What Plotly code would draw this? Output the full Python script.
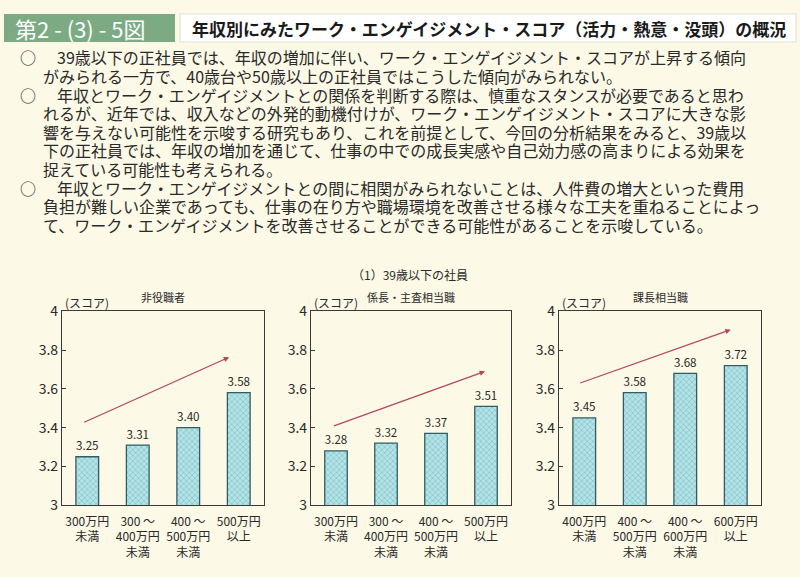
import plotly.graph_objects as go

W, H = 800, 577

# ---- data ----
cats_a = ["300万円<br>未満", "300 ～<br>400万円<br>未満", "400 ～<br>500万円<br>未満", "500万円<br>以上"]
cats_c = ["400万円<br>未満", "400 ～<br>500万円<br>未満", "400 ～<br>600万円<br>未満", "600万円<br>以上"]
vals_1 = [3.25, 3.31, 3.40, 3.58]
vals_2 = [3.28, 3.32, 3.37, 3.51]
vals_3 = [3.45, 3.58, 3.68, 3.72]
panel_titles = ["非役職者", "係長・主査相当職", "課長相当職"]
y_ticks = [3, 3.2, 3.4, 3.6, 3.8, 4]
y_ticklabels = ["3", "3.2", "3.4", "3.6", "3.8", "4"]
# trend arrows (start x, start y, end x, end y) in data units
arrows = [(-0.09, 3.424, 2.81, 3.763), (-0.07, 3.406, 2.98, 3.69), (-0.11, 3.627, 2.90, 3.905)]

header_num = "第2 - (3) - 5図"
header_title = "年収別にみたワーク・エンゲイジメント・スコア（活力・熱意・没頭）の概況"
para_lines = [
    ("○", "39歳以下の正社員では、年収の増加に伴い、ワーク・エンゲイジメント・スコアが上昇する傾向"),
    ("", "がみられる一方で、40歳台や50歳以上の正社員ではこうした傾向がみられない。"),
    ("○", "年収とワーク・エンゲイジメントとの関係を判断する際は、慎重なスタンスが必要であると思わ"),
    ("", "れるが、近年では、収入などの外発的動機付けが、ワーク・エンゲイジメント・スコアに大きな影"),
    ("", "響を与えない可能性を示唆する研究もあり、これを前提として、今回の分析結果をみると、39歳以"),
    ("", "下の正社員では、年収の増加を通じて、仕事の中での成長実感や自己効力感の高まりによる効果を"),
    ("", "捉えている可能性も考えられる。"),
    ("○", "年収とワーク・エンゲイジメントとの間に相関がみられないことは、人件費の増大といった費用"),
    ("", "負担が難しい企業であっても、仕事の在り方や職場環境を改善させる様々な工夫を重ねることによっ"),
    ("", "て、ワーク・エンゲイジメントを改善させることができる可能性があることを示唆している。"),
]
section_title = "（1）39歳以下の社員"
score_label = "(スコア)"

FONT = "Noto Sans CJK JP"
BG = "#fcf9e7"
TXT = "#2a2a2a"

panels = [(cats_a, vals_1, 62, 264), (cats_a, vals_2, 311, 511), (cats_c, vals_3, 559, 761)]
ytop, ybot = 311, 512

def px(x):
    return x / W

def py(y):
    return 1 - y / H

fig = go.Figure()
layout_axes = {}
annotations = []
shapes = []

for i, (cats, vals, x0, x1) in enumerate(panels):
    n = "" if i == 0 else str(i + 1)
    fig.add_trace(go.Bar(
        x=list(range(len(cats))), y=vals, xaxis="x" + n, yaxis="y" + n,
        width=0.45,
        marker=dict(color="#b4e2e5",
                    line=dict(color="#2f5d63", width=1.3),
                    pattern=dict(shape="x", fgcolor="#58adb6", bgcolor="#b4e2e5",
                                 size=4, solidity=0.35)),
        text=[f"{v:.2f}" for v in vals], textposition="outside",
        textfont=dict(family=FONT, size=13, color=TXT),
        cliponaxis=False, showlegend=False, hoverinfo="skip",
    ))
    layout_axes["xaxis" + n] = dict(
        domain=[px(x0), px(x1)], anchor="y" + n, range=[-0.5, 3.5],
        tickmode="array", tickvals=list(range(len(cats))), ticktext=cats,
        showline=True, linecolor="#3a3a3a", linewidth=1.2, mirror=True,
        ticks="", showgrid=False, zeroline=False, ticklabelstandoff=5,
        tickfont=dict(family=FONT, size=12, color=TXT),
    )
    layout_axes["yaxis" + n] = dict(
        domain=[py(ybot), py(ytop)], anchor="x" + n, range=[3, 4],
        tickmode="array", tickvals=y_ticks, ticktext=y_ticklabels,
        showline=True, linecolor="#3a3a3a", linewidth=1.2, mirror=True,
        ticks="inside", ticklen=4, tickcolor="#3a3a3a",
        showgrid=False, zeroline=False,
        tickfont=dict(family=FONT, size=14, color=TXT),
    )
    sx, sy, ex, ey = arrows[i]
    annotations.append(dict(
        x=ex, y=ey, ax=sx, ay=sy, xref="x" + n, yref="y" + n,
        axref="x" + n, ayref="y" + n, text="", showarrow=True,
        arrowhead=2, arrowsize=0.9, arrowwidth=1.2, arrowcolor="#b4465a",
    ))
    annotations.append(dict(
        x=px((x0 + x1) / 2), y=py(296), xref="paper", yref="paper",
        xanchor="center", yanchor="middle",
        text=panel_titles[i], showarrow=False,
        font=dict(family=FONT, size=11, color=TXT),
    ))
    annotations.append(dict(
        x=px(x0 + 1), y=py(302), xref="paper", yref="paper",
        xanchor="left", yanchor="middle",
        text=score_label, showarrow=False,
        font=dict(family=FONT, size=12, color=TXT),
    ))

annotations.append(dict(
    x=px(410), y=py(273), xref="paper", yref="paper", xanchor="center", yanchor="middle",
    text=section_title, showarrow=False,
    font=dict(family=FONT, size=12, color=TXT),
))

# header
shapes.append(dict(type="rect", xref="paper", yref="paper",
                   x0=px(4), x1=px(175), y0=py(32), y1=py(3),
                   fillcolor="#7cab83", line=dict(width=0), layer="below"))
shapes.append(dict(type="rect", xref="paper", yref="paper",
                   x0=px(180), x1=px(796), y0=py(32), y1=py(3),
                   fillcolor="#ffffff", line=dict(width=1, color="#e2e2da"), layer="below"))
annotations.append(dict(
    x=px(13), y=py(18), xref="paper", yref="paper", xanchor="left", yanchor="middle",
    text=header_num, showarrow=False,
    font=dict(family=FONT, size=22, color="#ffffff"),
))
annotations.append(dict(
    x=px(190), y=py(18), xref="paper", yref="paper", xanchor="left", yanchor="middle",
    text=header_title, showarrow=False,
    font=dict(family=FONT, size=17, color="#1a1a1a", weight="bold"),
))

# paragraphs (one annotation per printed line, as in the reference)
line_y0, line_dy = 48, 19.3
for k, (bullet, line) in enumerate(para_lines):
    yy = line_y0 + k * line_dy
    if bullet:
        annotations.append(dict(
            x=px(28), y=py(yy), xref="paper", yref="paper", xanchor="center", yanchor="middle",
            text=bullet, showarrow=False, font=dict(family=FONT, size=16, color=TXT)))
        xs = 55
    else:
        xs = 41
    annotations.append(dict(
        x=px(xs), y=py(yy), xref="paper", yref="paper", xanchor="left", yanchor="middle",
        text=line, showarrow=False, font=dict(family=FONT, size=16, color=TXT)))

fig.update_layout(
    width=W, height=H, margin=dict(l=0, r=0, t=0, b=0),
    paper_bgcolor=BG, plot_bgcolor=BG,
    bargap=0.55, annotations=annotations, shapes=shapes,
    font=dict(family=FONT),
    **layout_axes,
)

fig.write_html("out.html")
